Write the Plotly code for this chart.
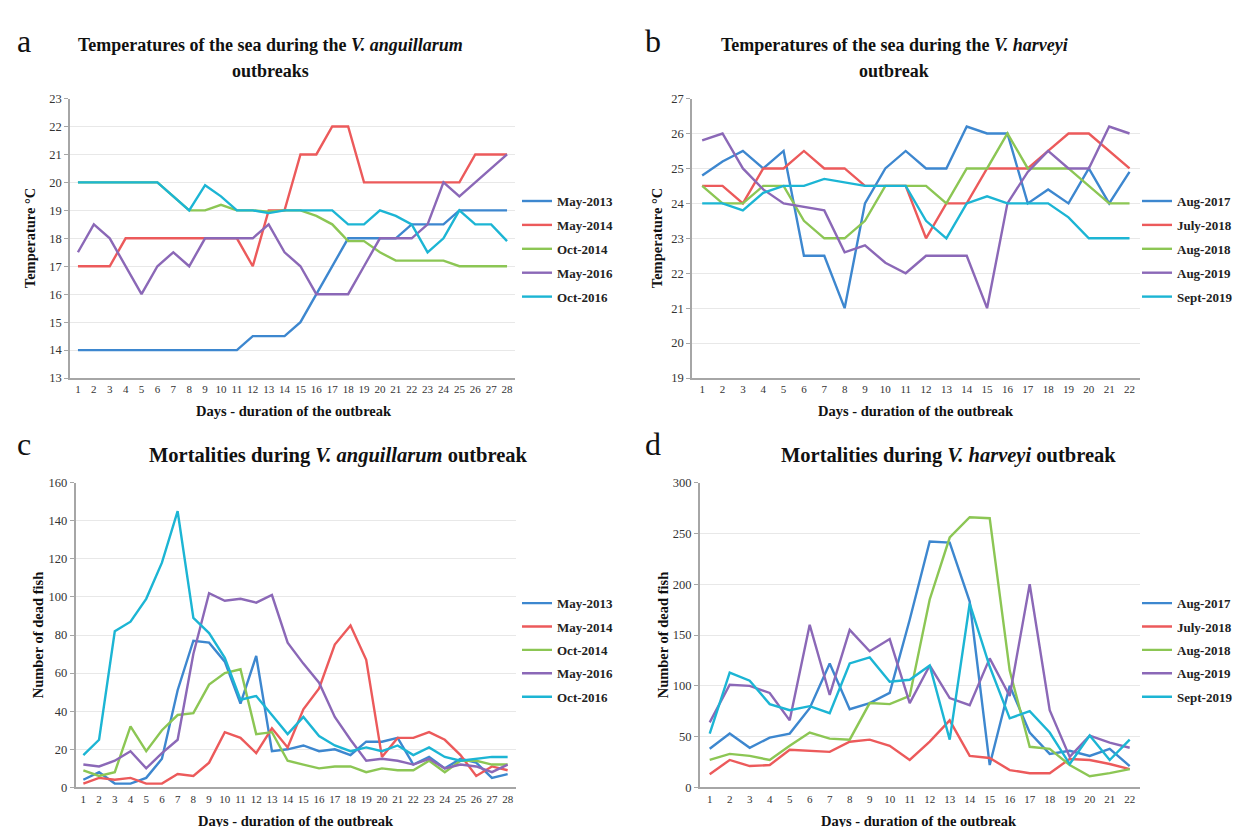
import plotly.graph_objects as go

W, H = 1241, 827

# ---------------- data ----------------
days_a = list(range(1, 29))
days_b = list(range(1, 23))

names_a = ["May-2013", "May-2014", "Oct-2014", "May-2016", "Oct-2016"]
names_b = ["Aug-2017", "July-2018", "Aug-2018", "Aug-2019", "Sept-2019"]

# Panel a: sea temperature, V. anguillarum outbreaks (°C)
a_may2013 = [14, 14, 14, 14, 14, 14, 14, 14, 14, 14, 14, 14.5, 14.5, 14.5, 15, 16, 17, 18, 18, 18, 18, 18.5, 18.5, 18.5, 19, 19, 19, 19]
a_may2014 = [17, 17, 17, 18, 18, 18, 18, 18, 18, 18, 18, 17, 19, 19, 21, 21, 22, 22, 20, 20, 20, 20, 20, 20, 20, 21, 21, 21]
a_oct2014 = [20, 20, 20, 20, 20, 20, 19.5, 19, 19, 19.2, 19, 19, 18.95, 19, 19, 18.8, 18.5, 17.9, 17.9, 17.5, 17.2, 17.2, 17.2, 17.2, 17, 17, 17, 17]
a_may2016 = [17.5, 18.5, 18, 17, 16, 17, 17.5, 17, 18, 18, 18, 18, 18.5, 17.5, 17, 16, 16, 16, 17, 18, 18, 18, 18.5, 20, 19.5, 20, 20.5, 21]
a_oct2016 = [20, 20, 20, 20, 20, 20, 19.5, 19, 19.9, 19.5, 19, 19, 18.9, 19, 19, 19, 19, 18.5, 18.5, 19, 18.8, 18.5, 17.5, 18, 19, 18.5, 18.5, 17.9]

# Panel b: sea temperature, V. harveyi outbreaks (°C)
b_aug2017 = [24.8, 25.2, 25.5, 25, 25.5, 22.5, 22.5, 21, 24, 25, 25.5, 25, 25, 26.2, 26, 26, 24, 24.4, 24, 25, 24, 24.9]
b_jul2018 = [24.5, 24.5, 24, 25, 25, 25.5, 25, 25, 24.5, 24.5, 24.5, 23, 24, 24, 25, 25, 25, 25.5, 26, 26, 25.5, 25]
b_aug2018 = [24.5, 24, 24, 24.5, 24.5, 23.5, 23, 23, 23.5, 24.5, 24.5, 24.5, 24, 25, 25, 26, 25, 25, 25, 24.5, 24, 24]
b_aug2019 = [25.8, 26, 25, 24.4, 24, 23.9, 23.8, 22.6, 22.8, 22.3, 22, 22.5, 22.5, 22.5, 21, 24, 24.9, 25.5, 25, 25, 26.2, 26]
b_sep2019 = [24, 24, 23.8, 24.3, 24.5, 24.5, 24.7, 24.6, 24.5, 24.5, 24.5, 23.5, 23, 24, 24.2, 24, 24, 24, 23.6, 23, 23, 23]

# Panel c: mortalities, V. anguillarum outbreak (number of dead fish)
c_may2013 = [4, 8, 2, 2, 5, 15, 51, 77, 76, 66, 44, 69, 19, 20, 22, 19, 20, 17, 24, 24, 26, 12, 16, 10, 15, 13, 5, 7]
c_may2014 = [2, 5, 4, 5, 2, 2, 7, 6, 13, 29, 26, 18, 31, 21, 41, 52, 75, 85, 67, 16, 26, 26, 29, 25, 17, 6, 11, 9]
c_oct2014 = [9, 6, 8, 32, 19, 30, 38, 39, 54, 60, 62, 28, 29, 14, 12, 10, 11, 11, 8, 10, 9, 9, 14, 8, 14, 14, 12, 12]
c_may2016 = [12, 11, 14, 19, 10, 18, 25, 70, 102, 98, 99, 97, 101, 76, 65, 55, 37, 25, 14, 15, 14, 12, 15, 10, 12, 11, 8, 12]
c_oct2016 = [17, 25, 82, 87, 99, 118, 145, 89, 81, 68, 46, 48, 38, 28, 37, 27, 22, 19, 21, 19, 22, 17, 21, 16, 14, 15, 16, 16]

# Panel d: mortalities, V. harveyi outbreak (number of dead fish)
d_aug2017 = [38, 53, 39, 49, 53, 78, 122, 77, 83, 93, 165, 242, 241, 183, 22, 100, 54, 33, 36, 31, 38, 21]
d_jul2018 = [13, 27, 21, 22, 37, 36, 35, 45, 47, 41, 27, 45, 66, 31, 29, 17, 14, 14, 28, 27, 23, 18]
d_aug2018 = [27, 33, 31, 27, 41, 54, 48, 47, 83, 82, 90, 185, 246, 266, 265, 115, 40, 38, 22, 11, 14, 18]
d_aug2019 = [64, 101, 100, 93, 66, 160, 91, 155, 134, 146, 83, 120, 88, 81, 127, 90, 200, 76, 30, 51, 44, 39]
d_sep2019 = [53, 113, 105, 82, 76, 80, 73, 122, 128, 104, 106, 120, 47, 181, 119, 68, 75, 54, 23, 51, 27, 47]

temp_ticks_a = [13, 14, 15, 16, 17, 18, 19, 20, 21, 22, 23]
temp_ticks_b = [19, 20, 21, 22, 23, 24, 25, 26, 27]
dead_ticks_c = [0, 20, 40, 60, 80, 100, 120, 140, 160]
dead_ticks_d = [0, 50, 100, 150, 200, 250, 300]

colors = ["#3d87cf", "#ec5a5b", "#8cc654", "#8b68b7", "#1cb5d4"]

# ---------------- layout helpers ----------------
FONT = "Liberation Serif"


def px_x(p):
    return p / W


def px_y(p):
    return 1 - p / H


fig = go.Figure()

panels = [
    ("x", "y", "legend", days_a, [a_may2013, a_may2014, a_oct2014, a_may2016, a_oct2016], names_a,
     [13, 23], temp_ticks_a, (62, 507), (85, 369.3)),
    ("x2", "y2", "legend2", days_b, [b_aug2017, b_jul2018, b_aug2018, b_aug2019, b_sep2019], names_b,
     [19, 27], temp_ticks_b, (684, 1131.7), (85, 369.3)),
    ("x3", "y3", "legend3", days_a, [c_may2013, c_may2014, c_oct2014, c_may2016, c_oct2016], names_a,
     [0, 160], dead_ticks_c, (67.5, 507.5), (475.7, 785.7)),
    ("x4", "y4", "legend4", days_b, [d_aug2017, d_jul2018, d_aug2018, d_aug2019, d_sep2019], names_b,
     [0, 300], dead_ticks_d, (691.7, 1131.7), (475.7, 785.7)),
]

legend_pos = {
    "legend": (509, 174, 4),
    "legend2": (1129, 174, 4),
    "legend3": (509, 583, 3.5),
    "legend4": (1129, 583, 3.5),
}

layout = dict(
    width=W, height=H,
    margin=dict(l=0, r=0, t=0, b=0),
    paper_bgcolor="white", plot_bgcolor="white",
    font=dict(family=FONT, color="#222"),
    annotations=[],
)

for k, (xa, ya, lg, xs, series, names, yr, yt, xd, yd) in enumerate(panels):
    for i, (s, n) in enumerate(zip(series, names)):
        fig.add_trace(go.Scatter(
            x=xs, y=s, name=n, mode="lines",
            line=dict(color=colors[i], width=2.4),
            xaxis=xa, yaxis=ya, legend=lg, legendgroup=f"{lg}_{i}",
        ))
    xkey = "xaxis" if xa == "x" else "xaxis" + xa[1:]
    ykey = "yaxis" if ya == "y" else "yaxis" + ya[1:]
    layout[xkey] = dict(
        domain=[px_x(xd[0]), px_x(xd[1])], anchor=ya,
        range=[0.5, len(xs) + 0.5], tickmode="array", tickvals=xs,
        ticktext=[str(v) for v in xs], showgrid=False, zeroline=False,
        showline=True, linecolor="#a6a6a6", linewidth=2,
        ticks="", tickfont=dict(family=FONT, size=11, color="#333"),
    )
    layout[ykey] = dict(
        domain=[px_y(yd[1]), px_y(yd[0])], anchor=xa,
        range=yr, tickmode="array", tickvals=yt, showgrid=True,
        gridcolor="#e8e8e8", gridwidth=1, zeroline=False,
        showline=True, linecolor="#a6a6a6", linewidth=1.5,
        ticks="outside", ticklen=4, tickcolor="#a6a6a6",
        tickfont=dict(family=FONT, size=12.5, color="#333"),
    )
    lx, ly, gap = legend_pos[lg]
    layout[lg] = dict(
        x=px_x(lx), y=px_y(ly), xanchor="left", yanchor="top",
        xref="paper", yref="paper",
        font=dict(family=FONT, size=13, color="#222", weight="bold"),
        traceorder="grouped", tracegroupgap=gap, itemwidth=30,
        bgcolor="rgba(0,0,0,0)",
    )


def ann(text, x, y, size, bold=True, angle=0, xanchor="center"):
    layout["annotations"].append(dict(
        text=text, x=px_x(x), y=px_y(y), xref="paper", yref="paper",
        showarrow=False, xanchor=xanchor, yanchor="middle", textangle=angle,
        font=dict(family=FONT, size=size, color="#111", weight="bold" if bold else "normal"),
    ))


# panel letters
ann("a", 16, 26, 32, bold=False)
ann("b", 645, 26, 32, bold=False)
ann("c", 16, 436, 32, bold=False)
ann("d", 645, 436, 32, bold=False)

# titles
ann("Temperatures of the sea during the <i>V. anguillarum</i>", 262, 31, 18)
ann("outbreaks", 262, 57, 18)
ann("Temperatures of the sea during the <i>V. harveyi</i>", 886, 31, 18)
ann("outbreak", 886, 57, 18)
ann("Mortalities during <i>V. anguillarum</i> outbreak", 330, 448, 20.5)
ann("Mortalities during <i>V. harveyi</i> outbreak", 940, 448, 20.5)

# axis titles
ann("Days - duration of the outbreak", 286, 403, 14.5)
ann("Days - duration of the outbreak", 908, 403, 14.5)
ann("Days - duration of the outbreak", 288, 820, 14.5)
ann("Days - duration of the outbreak", 911, 820, 14.5)
ann("Temperature °C", 22, 227, 14.5, angle=-90)
ann("Temperature °C", 649, 227, 14.5, angle=-90)
ann("Number of dead fish", 30, 631, 14.5, angle=-90)
ann("Number of dead fish", 655, 631, 14.5, angle=-90)

fig.update_layout(**layout)
fig.write_html("out.html")
